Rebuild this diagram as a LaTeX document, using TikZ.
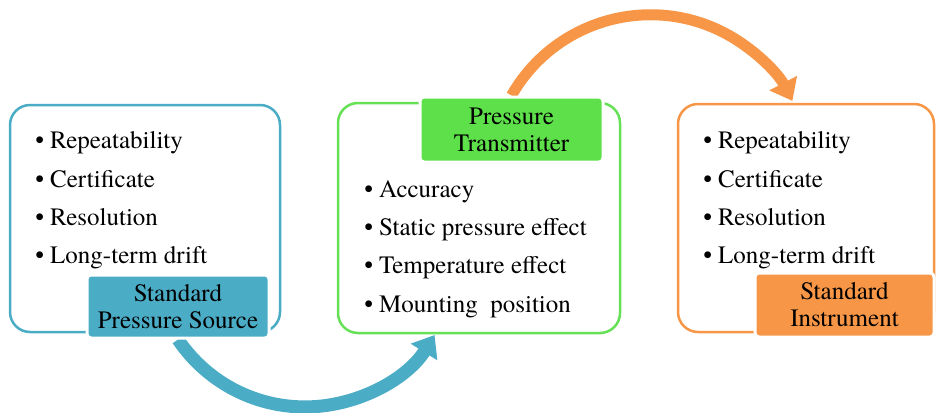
\documentclass[tikz,border=0pt]{standalone}
\usepackage{fontspec}
\setmainfont{TeX Gyre Termes}
\usetikzlibrary{arrows.meta,bending}
\definecolor{cblue}{HTML}{4BACC6}
\definecolor{cgreen}{HTML}{5EE04A}
\definecolor{cgreenline}{HTML}{66E055}
\definecolor{corange}{HTML}{F79646}
\pgfdeclarelayer{bg}
\pgfdeclarelayer{mid}
\pgfsetlayers{bg,mid,main}
\begin{document}
\begin{tikzpicture}[x=1pt,y=-1pt,
  box/.style={draw, line width=2.5pt, rounded corners=20pt, fill=white, inner sep=0pt},
  lab/.style={rounded corners=4pt, draw=white, line width=3pt, inner sep=0pt, align=center,
    font=\fontsize{25}{27}\selectfont},
  item/.style={anchor=base west, inner sep=0pt, font=\fontsize{25}{29}\selectfont},
  flow/.style={-{Triangle[length=20pt,width=30pt,quick]}}
]
\path[use as bounding box] (0,0) rectangle (936,412);

\begin{pgfonlayer}{bg}
\node[box, draw=cblue, minimum width=270pt, minimum height=227pt] (b1) at (145,218.5) {};
\node[box, draw=cgreenline, minimum width=282pt, minimum height=230pt] (b2) at (479,218) {};
\node[box, draw=corange, minimum width=256pt, minimum height=228pt] (b3) at (806,218) {};
\end{pgfonlayer}

% box 1 items
\node[item] (a1) at (50,148) {\llap{\textbullet\hspace{6pt}}Repeatability};
\node[item] (a2) at (50,187) {\llap{\textbullet\hspace{6pt}}Certificate};
\node[item] (a3) at (50,225) {\llap{\textbullet\hspace{6pt}}Resolution};
\node[item] (a4) at (50,263) {\llap{\textbullet\hspace{6pt}}Long-term drift};
% box 2 items
\node[item] (t1) at (379,197) {\llap{\textbullet\hspace{6pt}}Accuracy};
\node[item] (t2) at (379,235) {\llap{\textbullet\hspace{6pt}}Static pressure effect};
\node[item] (t3) at (379,273) {\llap{\textbullet\hspace{6pt}}Temperature effect};
\node[item] (t4) at (379,312) {\llap{\textbullet\hspace{6pt}}Mounting\ \ position};
% box 3 items
\node[item] (s1) at (718,148) {\llap{\textbullet\hspace{6pt}}Repeatability};
\node[item] (s2) at (718,187) {\llap{\textbullet\hspace{6pt}}Certificate};
\node[item] (s3) at (718,225) {\llap{\textbullet\hspace{6pt}}Resolution};
\node[item] (s4) at (718,263) {\llap{\textbullet\hspace{6pt}}Long-term drift};

% labels
\node[lab, fill=cblue, minimum width=182pt, minimum height=63pt] (l1) at (178,306.5) {Standard\\Pressure Source};
\node[lab, fill=cgreen, minimum width=183pt, minimum height=65pt] (l2) at (511.5,129.5) {Pressure\\Transmitter};
\node[lab, fill=corange, minimum width=179pt, minimum height=64pt] (l3) at (844.5,305) {Standard\\Instrument};

\begin{pgfonlayer}{mid}
\draw[cblue, line width=13pt, flow] (l1.south) arc[start angle=146, end angle=32, radius=153];
\draw[corange, line width=11pt, flow] (l2.north) arc[start angle=-150.3, end angle=-27.5, radius=160];
\end{pgfonlayer}
\end{tikzpicture}
\end{document}
